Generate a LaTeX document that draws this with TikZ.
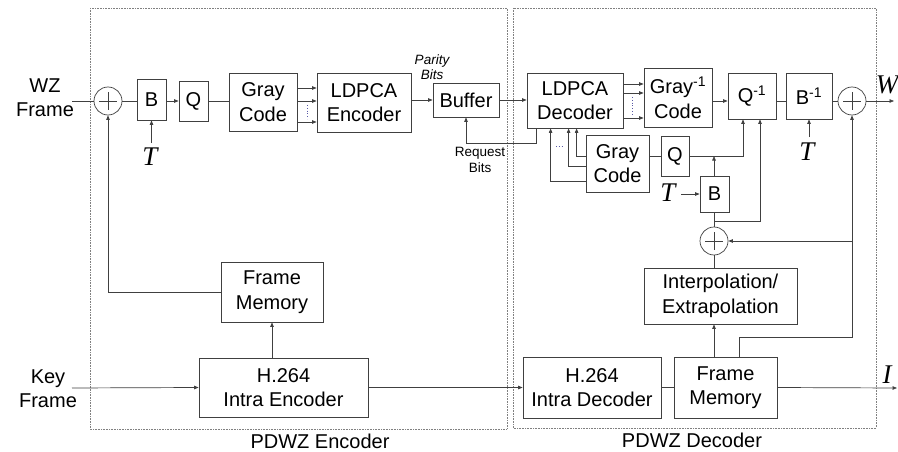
\documentclass[tikz,border=0pt]{standalone}
\usepackage{fontspec}
\setmainfont{Liberation Sans}
\newfontfamily\tfont{Liberation Serif}
\usetikzlibrary{arrows.meta,calc}
\definecolor{lc}{HTML}{404040}
\newcommand\mainfs{\fontsize{20}{24.5}\selectfont}
\newcommand\smallfs{\fontsize{13.5}{15.5}\selectfont}
\newcommand\smallit{\fontsize{13.5}{15}\selectfont\itshape}
\newcommand\tfs{\fontsize{27}{30}\selectfont\tfont\itshape}
\begin{document}
\begin{tikzpicture}[x=1pt,y=-1pt,
  blk/.style={draw=lc, line width=0.8pt, align=center, inner sep=0pt, font=\mainfs},
  sum/.style={circle, draw=lc, line width=0.7pt, minimum size=28pt, inner sep=0pt,
    path picture={\draw[lc, line width=0.6pt]
      ([xshift=-9pt]path picture bounding box.center) -- ([xshift=9pt]path picture bounding box.center)
      ([yshift=-9pt]path picture bounding box.center) -- ([yshift=9pt]path picture bounding box.center);}},
  ln/.style={draw=lc, line width=0.7pt},
  arr/.style={draw=lc, line width=0.7pt, -{Triangle[length=4.5pt,width=3.5pt]}},
  dbox/.style={draw=gray, line width=0.6pt, densely dotted},
  dots/.style={draw=gray!70!blue, line width=0.8pt, dotted}]
\fill[white] (0,0) rectangle (898,452);
\useasboundingbox (0,0) rectangle (898,452);
% frames
\draw[dbox] (90,8) rectangle (507,429);
\draw[dbox] (513,8) rectangle (876,428);
\node[font=\mainfs] (encl) at (320,441) {PDWZ Encoder};
\node[font=\mainfs] (decl) at (692,440) {PDWZ Decoder};
% blocks
\node[blk,minimum width=29pt,minimum height=41pt] (B1) at (151.5,99.5) {B};
\node[blk,minimum width=29pt,minimum height=40pt] (Q1) at (193.5,101) {Q};
\node[blk,minimum width=68pt,minimum height=58pt] (GC1) at (263,102) {Gray\\Code};
\node[blk,minimum width=94pt,minimum height=59pt] (LE) at (364,102.5) {LDPCA\\Encoder};
\node[blk,minimum width=66pt,minimum height=34pt] (Buf) at (466,100) {Buffer};
\node[blk,minimum width=96pt,minimum height=55pt] (LD) at (575,100.5) {LDPCA\\Decoder};
\node[blk,minimum width=68pt,minimum height=59pt] (GI) at (678,97.5) {Gray\textsuperscript{-1}\\Code};
\node[blk,minimum width=48pt,minimum height=46pt] (QI) at (752,96) {Q\textsuperscript{-1}};
\node[blk,minimum width=46pt,minimum height=46pt] (BI) at (809,96) {B\textsuperscript{-1}};
\node[sum] (sA) at (108,101) {};
\node[sum] (sB) at (852,101) {};
\node[blk,minimum width=63pt,minimum height=57pt] (GC2) at (617.5,163.5) {Gray\\Code};
\node[blk,minimum width=28pt,minimum height=40pt] (Q2) at (675,156) {Q};
\node[blk,minimum width=29pt,minimum height=36pt] (B2) at (714.5,194) {B};
\node[sum] (sC) at (714,241) {};
\node[blk,minimum width=153pt,minimum height=56pt] (IE) at (720.5,296) {Interpolation/\\Extrapolation};
\node[blk,minimum width=103pt,minimum height=61pt] (FMD) at (725.5,387.5) {Frame\\Memory};
\node[blk,minimum width=138pt,minimum height=61pt] (HID) at (592,387.5) {H.264\\Intra Decoder};
\node[blk,minimum width=102pt,minimum height=60pt] (FME) at (272,292) {Frame\\Memory};
\node[blk,minimum width=169pt,minimum height=59pt] (HIE) at (283.5,387.5) {H.264\\Intra Encoder};
% labels
\node[font=\mainfs, align=center] (wz) at (45,97.5) {WZ\\Frame};
\node[font=\mainfs, align=center] (key) at (48,388.5) {Key\\Frame};
\node[font=\smallit, align=center] (par) at (432,67.5) {Parity\\Bits};
\node[font=\smallfs, align=center] (req) at (480,160) {Request\\Bits};
\node[font=\tfs] (T1) at (150,157) {T};
\node[font=\tfs] (T2) at (807,152) {T};
\node[font=\tfs] (T3) at (668,193) {T};
\node[font=\tfs] (Wl) at (887,85) {W};
\node[font=\tfs] (Il) at (887,375) {I};
% free ends
\coordinate (wzin) at (72,101);
\coordinate (keyin) at (72,388);
\coordinate (Wout) at (894,101);
\coordinate (Iout) at (897,388);
\coordinate (t1a) at (151.5,143);
\coordinate (t2a) at (809,137);
\coordinate (t3a) at (681,194);
\coordinate (fb) at (852,337);
% encoder connections
\draw[ln] (wzin) -- (sA.west);
\draw[ln] (sA.east) -- (B1.west |- sA);
\draw[arr] (B1.east |- sA) -- (Q1.west |- sA);
\draw[ln] (Q1.east |- sA) -- (GC1.west |- sA);
\foreach \yy in {88,101,122} {\draw[arr] (GC1.east |- 0,\yy) -- (LE.west |- 0,\yy);}
\draw[dots] (307,105) -- (307,119);
\draw[arr] (t1a) -- (B1.south);
\draw[arr] (LE.east |- Buf) -- (Buf.west);
\draw[arr] (Buf.east) -- (LD.west |- Buf);
\draw[arr] ([xshift=10pt]LD.south west) -- ++(0,15) -| (Buf.south);
\draw[arr] (keyin) -- (HIE.west);
\draw[arr] (HIE.north -| FME) -- (FME.south);
\draw[arr] (FME.west) -| (sA.south);
\draw[arr] (HIE.east) -- (HID.west);
% decoder connections
\foreach \yy in {84,93,118} {\draw[arr] (LD.east |- 0,\yy) -- (GI.west |- 0,\yy);}
\draw[dots] (632,97) -- (632,114);
\draw[arr] (GI.east |- sB) -- (QI.west |- sB);
\draw[ln] (QI.east |- sB) -- (BI.west |- sB);
\draw[ln] (BI.east |- sB) -- (sB.west);
\draw[arr] (sB.east) -- (Wout);
\draw[arr] (t2a) -- (BI.south -| t2a);
\draw[arr] (GC2.west |- 0,156) -| ([xshift=50pt]LD.south west);
\draw[arr] (GC2.west |- 0,166) -| ([xshift=42pt]LD.south west);
\draw[arr] (GC2.west |- 0,181) -| ([xshift=24pt]LD.south west);
\draw[dots] (556,146) -- (563,146);
\draw[ln] (GC2.east |- Q2) -- (Q2.west);
\draw[arr] (Q2.east) -| ([xshift=-9pt]QI.south);
\draw[arr] (B2.north -| sC) -- (Q2 -| sC);
\draw[arr] (t3a) -- (B2.west);
\draw[ln] (sC.north) -- (B2.south -| sC);
\draw[arr] (sC |- 0,221) -| ([xshift=8pt]QI.south);
\draw[ln] (sC.south) -- (IE.north -| sC);
\draw[arr] (FMD.north -| sC) -- (IE.south -| sC);
\draw[arr] ([xshift=13.5pt]FMD.north) |- (fb) -- (sB.south);
\draw[arr] (sB |- sC) -- (sC.east);
\draw[ln] (HID.east) -- (FMD.west);
\draw[arr] (FMD.east) -- (Iout);
\end{tikzpicture}
\end{document}
